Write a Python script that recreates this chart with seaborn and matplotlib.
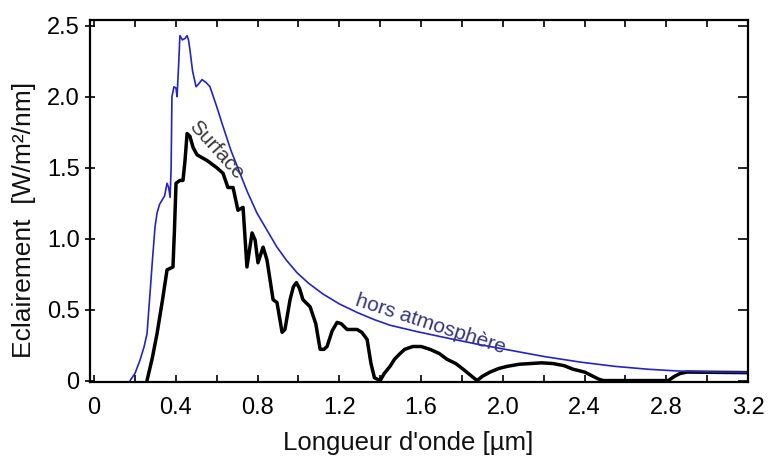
import numpy as np
import pandas as pd
import matplotlib
matplotlib.use("Agg")
import matplotlib.pyplot as plt
from matplotlib.ticker import MultipleLocator, FixedLocator
import seaborn as sns

# Solar spectral irradiance: above the atmosphere and at ground level
wl_top = [0.176, 0.20, 0.225, 0.245, 0.259, 0.274, 0.283, 0.298, 0.308, 0.32,
          0.332, 0.345, 0.357, 0.365, 0.372, 0.377, 0.381, 0.391, 0.401, 0.406,
          0.413, 0.42, 0.432, 0.445, 0.455, 0.462, 0.469, 0.482, 0.499, 0.512,
          0.528, 0.548, 0.567, 0.60, 0.631, 0.67, 0.714, 0.75, 0.797, 0.85,
          0.895, 0.94, 0.993, 1.05, 1.12, 1.20, 1.287, 1.37, 1.448, 1.58,
          1.727, 1.88, 2.05, 2.20, 2.38, 2.55, 2.71, 2.85, 3.03, 3.2]
irr_top = [0.0, 0.05, 0.145, 0.24, 0.33, 0.62, 0.80, 1.08, 1.18, 1.24,
           1.27, 1.30, 1.39, 1.36, 1.29, 1.50, 2.0, 2.07, 2.06, 2.0,
           2.2, 2.43, 2.40, 2.41, 2.43, 2.40, 2.33, 2.18, 2.07, 2.09,
           2.12, 2.10, 2.07, 1.93, 1.79, 1.62, 1.46, 1.33, 1.18, 1.05,
           0.94, 0.85, 0.76, 0.685, 0.61, 0.54, 0.48, 0.43, 0.39, 0.345,
           0.30, 0.255, 0.21, 0.17, 0.13, 0.10, 0.08, 0.068, 0.06, 0.058]

wl_sfc = [0.259, 0.285, 0.308, 0.335, 0.357, 0.386, 0.393, 0.401, 0.42, 0.435,
          0.445, 0.455, 0.469, 0.485, 0.504, 0.553, 0.60, 0.631, 0.655, 0.68,
          0.704, 0.729, 0.748, 0.773, 0.788, 0.802, 0.827, 0.846, 0.876, 0.895,
          0.92, 0.934, 0.959, 0.975, 0.99, 1.005, 1.022, 1.057, 1.085, 1.106,
          1.125, 1.14, 1.165, 1.189, 1.21, 1.238, 1.26, 1.287, 1.31, 1.336,
          1.355, 1.372, 1.40, 1.42, 1.448, 1.47, 1.497, 1.52, 1.56, 1.60,
          1.644, 1.69, 1.727, 1.77, 1.806, 1.84, 1.874, 1.90, 1.938, 1.98,
          2.021, 2.08, 2.134, 2.19, 2.246, 2.30, 2.344, 2.40, 2.442, 2.47,
          2.491, 2.81, 2.84, 2.868, 2.902, 3.05, 3.2]
irr_sfc = [0.0, 0.16, 0.33, 0.57, 0.78, 0.80, 1.05, 1.39, 1.41, 1.41,
           1.55, 1.74, 1.72, 1.64, 1.59, 1.55, 1.50, 1.46, 1.36, 1.36,
           1.20, 1.22, 0.80, 1.04, 0.99, 0.83, 0.94, 0.85, 0.57, 0.55,
           0.34, 0.36, 0.57, 0.66, 0.69, 0.65, 0.57, 0.52, 0.40, 0.22,
           0.22, 0.24, 0.35, 0.41, 0.40, 0.36, 0.36, 0.36, 0.34, 0.29,
           0.12, 0.02, 0.0, 0.05, 0.10, 0.15, 0.19, 0.22, 0.24, 0.24,
           0.22, 0.19, 0.15, 0.12, 0.08, 0.04, 0.0, 0.03, 0.06, 0.085,
           0.10, 0.115, 0.12, 0.125, 0.12, 0.105, 0.08, 0.06, 0.03, 0.01,
           0.0, 0.0, 0.03, 0.05, 0.06, 0.058, 0.056]

x_ticks = [0, 0.4, 0.8, 1.2, 1.6, 2.0, 2.4, 2.8, 3.2]
x_labels = ["0", "0.4", "0.8", "1.2", "1.6", "2.0", "2.4", "2.8", "3.2"]
y_ticks = [0, 0.5, 1.0, 1.5, 2.0, 2.5]
y_labels = ["0", "0.5", "1.0", "1.5", "2.0", "2.5"]

df_top = pd.DataFrame({"wl": wl_top, "irr": irr_top})
df_sfc = pd.DataFrame({"wl": wl_sfc, "irr": irr_sfc})

sns.set_style("white")
plt.rcParams["font.family"] = ["Liberation Sans", "DejaVu Sans"]

fig = plt.figure(figsize=(7.81, 4.59), dpi=100)
ax = fig.add_axes([90 / 781, 1 - 382 / 459, 658 / 781, 362 / 459])

sns.lineplot(data=df_sfc, x="wl", y="irr", ax=ax, color="black", lw=2.5,
             estimator=None, sort=False)
sns.lineplot(data=df_top, x="wl", y="irr", ax=ax, color="#2424c4", lw=1.2,
             estimator=None, sort=False)
for line in ax.get_lines():
    line.set_solid_joinstyle("round")

ax.set_xlim(-0.02, 3.2)
ax.set_ylim(-0.01, 2.54)

ax.xaxis.set_major_locator(FixedLocator(x_ticks))
ax.set_xticklabels(x_labels)
ax.xaxis.set_minor_locator(MultipleLocator(0.2))
ax.yaxis.set_major_locator(FixedLocator(y_ticks))
ax.set_yticklabels(y_labels)

for side in ["left", "right", "top", "bottom"]:
    ax.spines[side].set_visible(True)
    ax.spines[side].set_color("black")
    ax.spines[side].set_linewidth(1.6)

ax.tick_params(axis="x", which="both", direction="in", length=5, width=1.2,
               top=True, bottom=True, labelsize=17, pad=11, colors="black")
ax.tick_params(axis="y", which="major", direction="inout", length=7, width=1.2,
               left=True, right=True, labelsize=17, pad=4, colors="black")
for t in ax.yaxis.get_major_ticks():
    t.tick2line.set_marker(matplotlib.lines.TICKLEFT)

ax.set_xlabel("Longueur d'onde [µm]", fontsize=18.5, color="#111111")
ax.set_ylabel("Eclairement  [W/m²/nm]", fontsize=19, color="#111111")
ax.xaxis.set_label_coords(0.483, -0.135)
ax.yaxis.set_label_coords(-0.082, 0.448)

ax.text(0.597, 1.624, "Surface", rotation=-48, rotation_mode="anchor",
        ha="center", va="center", fontsize=15, color="#3a3a3a")
ax.text(1.644, 0.395, "hors atmosphère", rotation=-18, rotation_mode="anchor",
        ha="center", va="center", fontsize=15, color="#35357f")

fig.savefig("out.png", dpi=100)
